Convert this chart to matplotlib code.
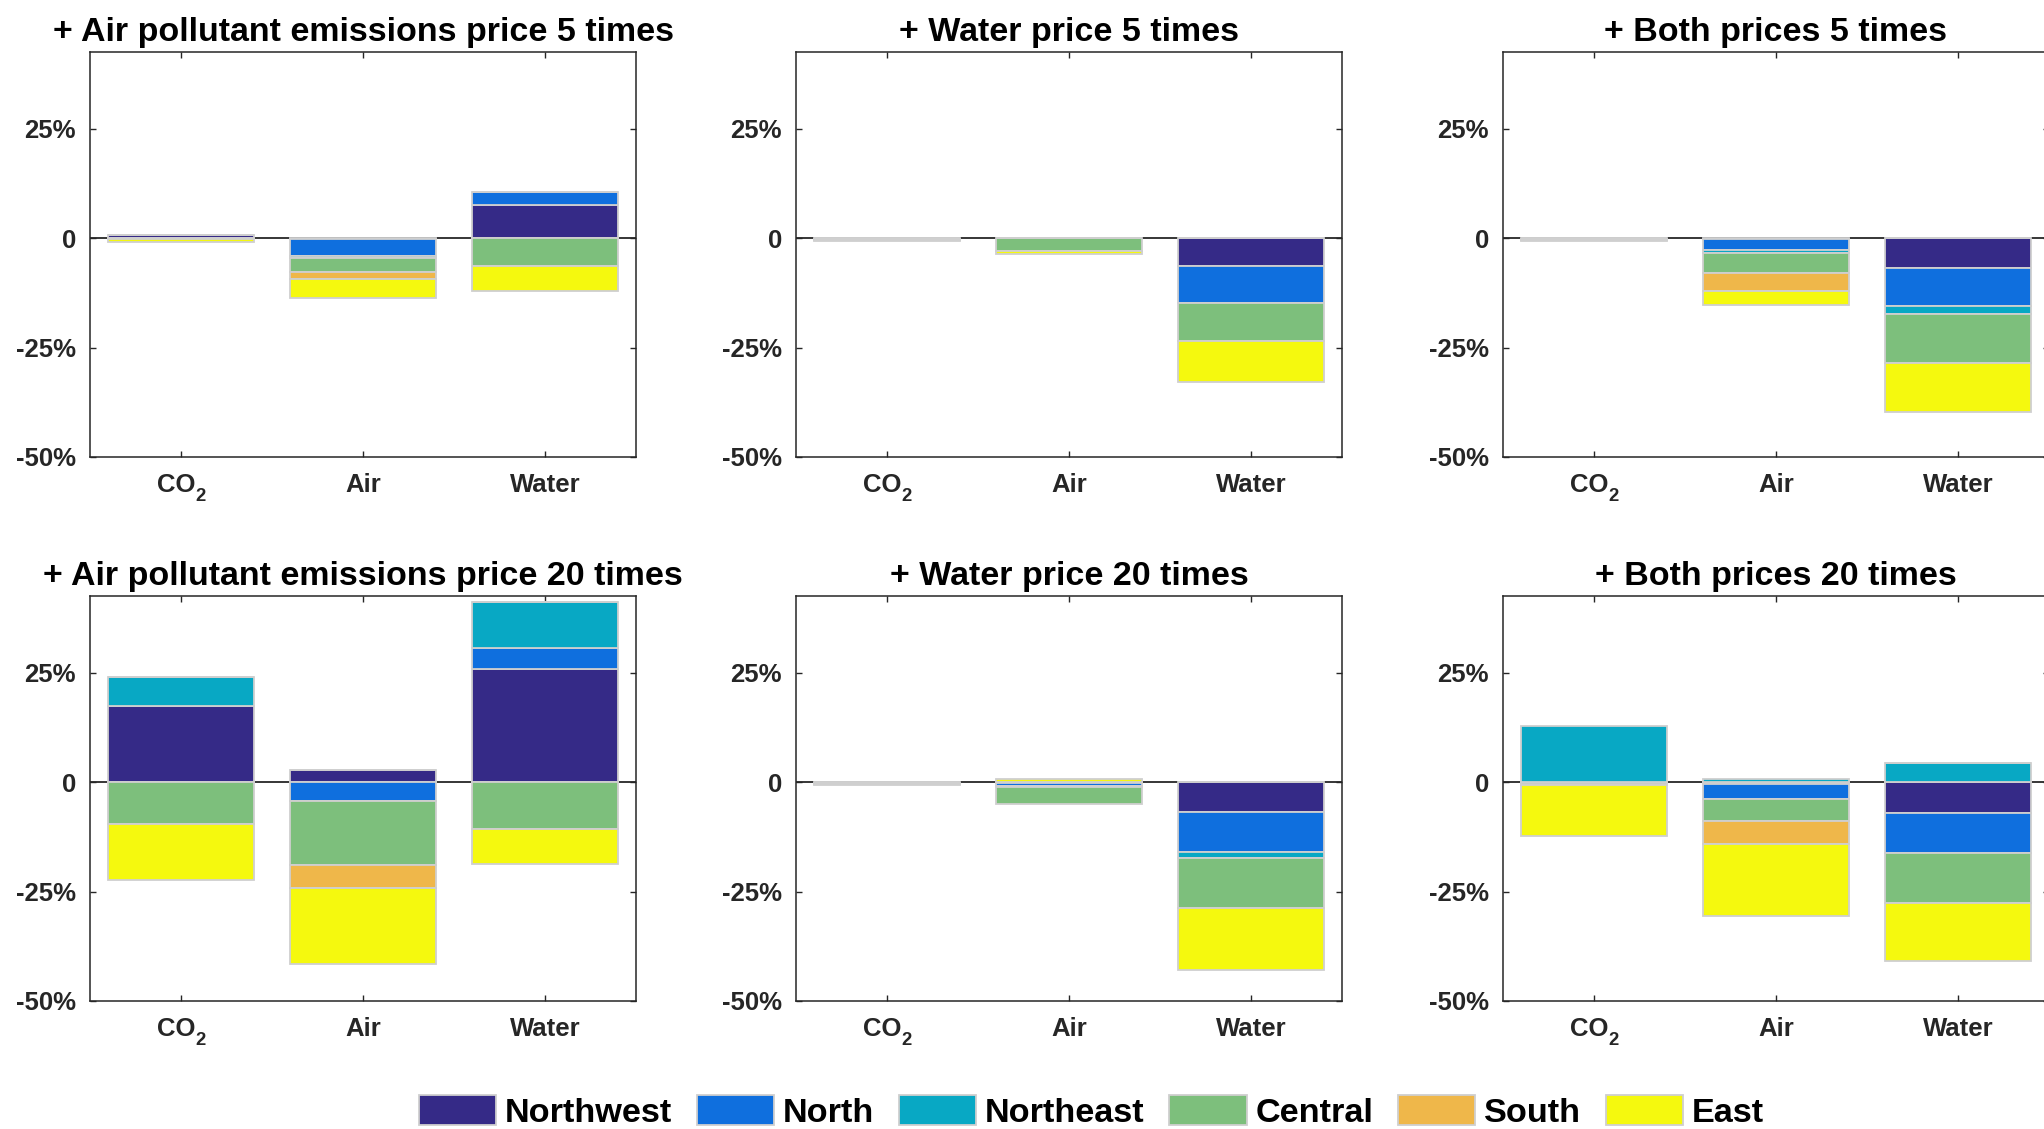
import matplotlib
matplotlib.use("Agg")
import matplotlib.pyplot as plt
from matplotlib.patches import Patch
import numpy as np

plt.rcParams['font.family'] = ['Liberation Sans', 'DejaVu Sans']
plt.rcParams['font.weight'] = 'bold'

# Regions (series) and pollutant categories
regions = ["Northwest", "North", "Northeast", "Central", "South", "East"]
region_colors = ["#352a87", "#0f6fde", "#08a8c4", "#7dbf7c", "#efb74a", "#f5f90e"]
categories = ["CO", "Air", "Water"]
category_subscripts = ["2", "", ""]

# Percentage change per region; each row is one region, columns are CO2 / Air / Water
air_5 = [[0.8, -0.1, 7.5],
         [0.0, -4.0, 3.1],
         [0.0, -0.4, 0.0],
         [-0.1, -3.2, -6.4],
         [0.0, -1.6, 0.0],
         [-0.9, -4.4, -5.7]]
water_5 = [[-0.1, 0.0, -6.4],
           [-0.1, 0.0, -8.4],
           [0.0, 0.0, 0.0],
           [-0.2, -3.0, -8.8],
           [-0.1, 0.0, 0.0],
           [-0.1, -0.7, -9.2]]
both_5 = [[-0.1, -0.2, -6.8],
          [-0.1, -2.5, -8.8],
          [0.0, -0.6, -1.7],
          [-0.2, -4.7, -11.3],
          [-0.1, -4.0, 0.0],
          [-0.1, -3.2, -11.2]]
air_20 = [[17.4, 2.8, 25.8],
          [0.0, -4.4, 4.8],
          [6.5, 0.0, 10.6],
          [-9.6, -14.5, -10.8],
          [0.0, -5.2, 0.0],
          [-12.8, -17.4, -8.0]]
water_20 = [[-0.1, -0.2, -6.8],
            [-0.1, -0.6, -9.1],
            [0.0, -0.4, -1.5],
            [-0.2, -3.8, -11.3],
            [-0.1, 0.0, 0.0],
            [-0.1, 0.8, -14.2]]
both_20 = [[-0.1, -0.5, -7.1],
           [-0.2, -3.4, -9.2],
           [12.9, 0.6, 4.3],
           [-0.3, -5.1, -11.4],
           [-0.1, -5.2, 0.0],
           [-11.7, -16.3, -13.2]]

titles = ["+ Air pollutant emissions price 5 times", "+ Water price 5 times",
          "+ Both prices 5 times", "+ Air pollutant emissions price 20 times",
          "+ Water price 20 times", "+ Both prices 20 times"]
panels = [air_5, water_5, both_5, air_20, water_20, both_20]

W, H = 2044, 1129
fig = plt.figure(figsize=(W / 100, H / 100), dpi=100)

col_left = [90, 796, 1503]
ax_w = 546
row_top = [52, 596]
ax_h = 405

ink = "#262626"
tick_fs = 18.5
x = np.arange(1, len(categories) + 1)

for i, (data, title) in enumerate(zip(panels, titles)):
    r, c = divmod(i, 3)
    ax = fig.add_axes([col_left[c] / W, 1 - (row_top[r] + ax_h) / H, ax_w / W, ax_h / H])
    vals = np.array(data, dtype=float)
    pos_base = np.zeros(len(categories))
    neg_base = np.zeros(len(categories))
    ax.axhline(0, color=ink, lw=1.3, zorder=1)
    for k in range(len(regions)):
        v = vals[k]
        bottom = np.where(v >= 0, pos_base, neg_base)
        ax.bar(x, v, width=0.8, bottom=bottom, color=region_colors[k],
               edgecolor="#cfcfcf", linewidth=1.3, zorder=2)
        pos_base = pos_base + np.where(v >= 0, v, 0)
        neg_base = neg_base + np.where(v < 0, v, 0)
    ax.set_xlim(0.5, 3.5)
    ax.set_ylim(-50, 42.5)
    ax.set_yticks([-50, -25, 0, 25])
    ax.set_yticklabels(["-50%", "-25%", "0", "25%"])
    ax.set_xticks(x)
    ax.set_xticklabels([])
    ax.tick_params(direction="in", top=True, right=True, length=4.3, width=1,
                   color=ink, labelcolor=ink, labelsize=tick_fs)
    ax.tick_params(axis="y", pad=10)
    for lab in ax.get_yticklabels():
        lab.set_fontweight("bold")

    # category labels, with a lowered subscript where needed
    for xi, name, sub in zip(x, categories, category_subscripts):
        main_w = 1.5 * tick_fs if sub else 0
        sub_w = 0.39 * tick_fs if sub else 0
        if sub:
            start = -(main_w + sub_w) / 2
            ax.annotate(name, xy=(xi, 0), xycoords=("data", "axes fraction"),
                        xytext=(start, -25), textcoords="offset points",
                        ha="left", va="baseline", fontsize=tick_fs,
                        fontweight="bold", color=ink, annotation_clip=False)
            ax.annotate(sub, xy=(xi, 0), xycoords=("data", "axes fraction"),
                        xytext=(start + main_w, -31.5), textcoords="offset points",
                        ha="left", va="baseline", fontsize=tick_fs * 0.72,
                        fontweight="bold", color=ink, annotation_clip=False)
        else:
            ax.annotate(name, xy=(xi, 0), xycoords=("data", "axes fraction"),
                        xytext=(0, -25), textcoords="offset points",
                        ha="center", va="baseline", fontsize=tick_fs,
                        fontweight="bold", color=ink, annotation_clip=False)

    for sp in ax.spines.values():
        sp.set_color(ink)
        sp.set_linewidth(1.1)
    ax.set_title(title, fontsize=24.5, fontweight="bold", color="black", pad=8)

handles = [Patch(facecolor=col, edgecolor="#cfcfcf", linewidth=1.3) for col in region_colors]
fig.legend(handles, regions, loc="center", bbox_to_anchor=(0.534, 0.015), ncol=6,
           frameon=False, prop={"size": 24.7, "weight": "bold"},
           handlelength=2.25, handleheight=0.95, handletextpad=0.26, columnspacing=0.72)

fig.savefig("out.png", dpi=100)
